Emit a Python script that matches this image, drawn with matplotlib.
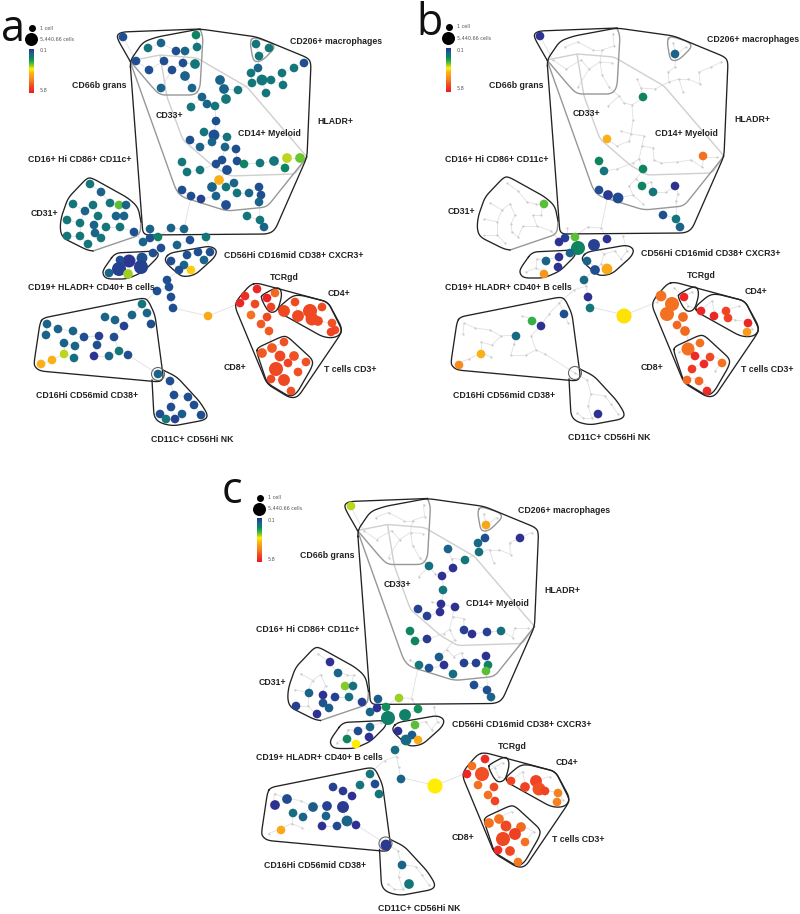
import numpy as np
import matplotlib
matplotlib.use("Agg")
import matplotlib.pyplot as plt
from matplotlib.colors import LinearSegmentedColormap

# ==========================================
# 1. Data (pixel positions)
# ==========================================
# panel a: every node of the tree, the other panels reuse them as small grey dots
a_x = [123,196,197,148,161,176,185,136,164,183,195,149,172,185,161,192,
       256,269,259,304,294,282,258,251,252,262,271,283,266,
       220,224,238,226,202,207,215,191,216,
       204,214,227,190,200,212,225,236,
       182,187,200,216,222,227,237,244,260,274,287,300,285,
       219,234,212,226,182,191,201,216,237,249,259,261,259,226,247,260,264,
       90,101,73,93,110,119,126,85,98,116,124,67,80,94,106,120,134,67,80,95,101,88,
       150,171,184,150,158,143,190,206,161,177,
       153,142,129,120,119,141,109,128,
       171,187,198,210,204,184,179,191,
       167,169,157,171,173,208,
       257,245,240,255,251,267,261,269,275,267,271,
       295,284,322,298,310,312,318,332,335,331,
       284,272,262,280,294,288,306,276,298,271,284,291,
       142,132,147,151,105,115,124,47,58,73,46,84,99,114,64,75,97,119,128,94,109,74,64,52,41,158,
       170,174,188,194,171,160,182,201,166,175]
a_y = [37,35,47,48,43,51,51,61,61,63,64,70,70,76,88,88,
       44,48,56,63,68,73,68,73,83,80,80,85,93,
       80,89,90,99,97,104,106,107,121,
       132,135,137,140,147,142,147,149,
       162,172,170,164,160,170,161,164,163,161,158,158,168,
       180,183,187,187,190,196,199,196,193,193,187,195,202,205,216,220,227,
       184,192,204,205,203,205,205,211,216,216,216,220,223,225,227,227,232,236,236,233,238,244,
       229,228,229,238,237,242,240,237,248,245,
       253,258,261,260,269,267,273,274,
       261,255,252,252,260,265,270,270,
       280,287,291,297,308,316,
       289,296,303,304,315,317,324,331,293,298,307,
       302,311,307,316,311,319,321,323,330,332,
       342,348,353,356,356,363,362,369,372,379,380,391,
       304,315,313,324,317,320,326,324,329,331,335,337,336,337,343,346,345,351,355,356,356,358,354,360,364,374,
       381,395,397,405,407,414,414,415,419,419]
a_val = [.45,1.3,1,1,.7,.45,.7,.45,.45,.45,1,.45,.45,.7,.7,.7,
         1,1,1,.45,1,1,.7,1,1,1,1,1,1,
         .7,.7,1,1,.7,.7,1,1,.45,
         1,.45,1,.45,.7,.7,.7,.45,
         1,1,1,.45,.45,.45,.45,1.3,1,1,2.4,2.1,1.3,
         3.3,.7,.7,1,.45,.45,.3,.7,1,.7,.45,.45,.7,.45,1,1,.7,
         1,.7,1,1,1,2,.7,.7,1,.7,.7,1,1,.7,1,1,.45,1,1,.7,1,1,
         .7,.7,.7,.45,1.2,.7,.45,1,.45,.7,
         .45,.45,.15,.45,.3,.3,.7,2.3,
         .45,.45,.45,.45,.7,.7,.45,3,
         .45,.45,.45,.45,.45,3.4,
         5.6,5.4,5.6,4.9,4.4,4.9,4.7,4.7,4.5,5.7,5,
         4.9,4.9,4.9,4.9,4.9,4.9,4.9,4.8,4.9,5,
         4.8,4.7,4.7,4.9,4.8,5,4.8,4.9,4.8,4.9,4.9,4.8,
         1,.7,.7,.45,.7,.7,.3,.7,.7,.7,.7,.45,.3,.45,.7,.7,.45,1,.45,.15,.7,.9,2.4,3.3,3.3,.7,
         .45,.45,.45,.45,.45,.45,.6,.45,1,.3]
a_size = [8,8,8,8,8,8,8,8,8,8,9,8,8,9,8,8,
          8,8,8,8,8,8,8,8,8,10,8,8,8,
          9,9,8,9,8,8,8,8,8,
          8,10,8,8,8,8,8,8,
          8,8,8,8,8,9,8,8,8,9,9,9,8,
          9,8,9,8,8,8,8,8,8,8,8,8,8,9,8,8,8,
          8,8,8,8,8,8,8,8,8,8,8,8,8,8,8,8,8,8,8,8,8,8,
          8,8,8,8,8,8,8,8,8,8,
          8,10,12,8,13,13,8,9,
          8,8,8,8,8,8,8,8,
          8,8,8,8,8,8,
          8,8,8,8,8,8,8,8,8,8,8,
          8,11,8,11,13,12,9,8,8,8,
          8,9,9,10,9,8,8,13,8,8,11,8,
          8,8,8,8,8,8,8,8,8,8,8,8,8,8,8,8,8,8,8,8,8,8,8,8,8,8,
          8,8,8,8,8,8,8,8,8,8]

b_x = [540,675,643,607,703,599,604,643,599,608,618,642,653,675,663,676,680,544,
       575,565,559,578,594,607,570,559,558,546,544,587,595,607,584,588,590,624,
       564,532,541,516,481,459,598,
       661,672,667,683,677,685,684,701,714,726,728,748,747,700,688,695,710,704,722,692,687,699,707]
b_y = [36,54,97,139,156,161,171,169,190,195,198,186,192,186,215,219,227,204,
       237,238,242,248,245,239,253,257,267,261,274,261,270,269,280,297,308,316,
       314,321,326,336,354,365,414,
       296,304,314,317,325,331,297,311,316,311,318,323,332,343,349,356,357,364,363,369,380,381,391]
b_val = [.15,.7,1.3,3.3,4.4,1.3,1,1.3,.45,.2,.4,1.3,1,.1,.45,1,.7,2,
         2,.3,.1,1.3,.3,.1,.7,.1,.1,.7,3.8,.7,.45,3.4,.8,.1,1,2.8,
         .45,1.8,.1,.8,3.3,4,.1,
         4.4,4.4,4.4,4.5,4.5,4.5,5.6,5.6,5.6,5,5,5.6,3.7,4.4,4.4,5.5,4.9,5.5,4.4,5.2,4.5,4.5,5.5]
b_size = [8,8,8,8,8,8,8,8,8,9,10,8,8,8,8,8,8,8,
          8,8,8,13,11,8,8,8,8,8,8,8,9,10,8,8,8,14,
          8,8,8,8,8,8,8,
          10,13,13,9,8,9,8,8,8,8,8,8,8,8,12,8,8,8,8,8,8,8,8]

c_x = [351,486,485,478,520,479,448,465,429,453,442,443,441,455,418,427,440,410,415,427,464,472,487,501,
       439,419,429,444,464,476,486,488,486,453,474,487,491,399,378,
       330,338,345,353,309,323,335,349,362,296,323,329,317,
       377,386,370,418,388,405,
       370,358,369,347,356,
       415,398,412,406,418,395,401,435,
       370,333,343,352,360,375,379,287,275,313,327,343,293,303,326,347,356,322,337,281,386,402,409,
       485,472,467,482,478,494,488,495,511,525,536,539,545,558,557,489,499,506,521,515,525,503,498,510,518]
c_y = [506,525,538,543,538,552,549,560,566,568,576,590,604,607,609,616,612,631,641,639,630,634,632,631,
       657,665,668,665,663,663,656,665,671,674,685,690,697,698,699,
       662,673,686,686,693,695,697,697,702,706,703,708,714,
       708,707,712,709,718,715,
       727,731,737,739,744,
       725,731,735,740,740,750,779,786,
       774,787,791,796,785,784,794,799,805,807,806,807,813,817,816,821,825,826,826,830,845,865,884,
       759,766,774,774,785,787,795,801,781,787,781,789,791,793,802,823,819,826,827,834,842,839,850,851,862]
c_val = [2.4,3.5,.45,.8,.1,.9,.7,1,.9,.1,.1,1,.1,.1,.3,.3,.1,1.3,1.3,.2,.3,.1,.3,.9,
         .6,1,.45,.1,.3,.3,.1,1.2,2,.9,.45,.45,.7,2.3,.6,
         .1,.7,2.2,.9,.7,.1,.3,.9,.3,.3,.5,.6,.1,
         .1,1.4,.7,1.4,1.2,1.2,
         .7,.4,.1,1.3,2.7,
         2,.1,.6,.8,3.4,.9,.7,2.7,
         1,.3,.2,.1,1,.4,1,.4,.1,.6,.3,.2,.9,.7,.7,.7,.1,.1,.4,3.4,.2,.7,1,
         5.5,4.4,5.6,4.8,4.4,4.9,4.4,5,5,5,5,4.8,5,4.2,4.2,4.4,4.4,4.9,4.5,5.1,4.4,4.9,5.5,4.9,4.3]
c_size = [8,8,8,8,8,8,8,8,8,8,8,8,8,8,8,8,8,8,8,8,8,8,8,8,
          8,8,8,8,8,8,8,8,8,8,8,8,8,8,8,
          8,8,8,8,8,8,8,8,8,8,8,8,8,
          8,8,8,8,13,11,
          8,8,8,8,8,
          8,8,8,10,8,8,8,14,
          8,8,8,8,8,8,8,9,9,9,9,11,8,8,8,10,8,8,8,8,10,8,9,
          8,8,8,13,8,8,8,8,8,9,11,12,8,8,8,9,9,10,9,11,8,13,8,9,8]

# gates, in the coordinates of panel a
hulls_black = [
    [(130,61),(143,42),(157,37),(200,29),(257,37),(308,58),(311,63),(307,157),(275,230),(268,234),(143,235),(130,61)],
    [(130,61),(118,40),(117,35),(122,32),(200,29)],
    [(141,222),(138,207),(128,198),(92,178),(87,178),(68,198),(61,218),(60,230),(63,238),(87,250),(93,251)],
    [(115,253),(157,251),(159,256),(143,272),(127,279),(107,279),(103,275),(103,270),(115,253)],
    [(170,253),(210,246),(217,250),(215,257),(195,275),(183,277),(177,273),(166,263),(165,258),(170,253)],
    [(43,318),(143,298),(148,300),(155,315),(163,375),(163,378),(160,382),(40,371),(35,367),(34,363),(40,323),(43,318)],
    [(163,370),(177,377),(200,402),(208,415),(205,420),(173,426),(160,423),(154,417),(152,380)],
    [(257,283),(328,302),(342,330),(340,335),(298,397),(290,398),(267,384),(235,307),(237,300),(250,285),(257,283)],
    [(262,295),(275,288),(280,288),(282,295),(278,310),(272,313),(267,310),(261,298),(262,295)],
    [(278,308),(292,296),(300,295),(328,302),(342,328),(340,335),(333,338),(323,337),(280,313),(278,308)],
    [(257,348),(283,336),(288,337),(313,360),(312,367),(297,393),(290,397),(267,383),(257,353),(257,348)],
]
hulls_grey = [
    [(200,29),(203,37),(200,88),(195,95),(160,95),(153,88),(130,61)],
    [(253,37),(272,43),(275,48),(263,60),(257,62),(253,60),(250,42),(253,37)],
    [(130,61),(176,190),(182,197),(227,211),(267,207),(307,157)],
    [(141,222),(140,235),(93,251)],
]
hulls_light = [
    [(160,55),(167,97),(183,140),(213,166),(230,176),(295,174),(307,157)],
    [(130,61),(160,55),(197,58),(247,87),(307,157)],
]

label_text = ["CD206+ macrophages", "CD66b grans", "CD33+", "CD14+ Myeloid", "HLADR+",
              "CD16+ Hi CD86+ CD11c+", "CD31+", "CD56Hi CD16mid CD38+ CXCR3+",
              "CD19+ HLADR+ CD40+ B cells", "TCRgd", "CD4+", "CD8+", "T cells CD3+",
              "CD16Hi CD56mid CD38+", "CD11C+ CD56Hi NK"]
label_x = [290,72,156,238,317,28,31,224,28,270,328,224,324,36,151]
label_y = [41,86,115,134,121,160,213,255,288,277,293,368,370,396,439]

panel_names = ["a", "b", "c"]
panel_dx = [0, 417, 227.5]
panel_dy = [0, -1, 469.5]
letter_x = [1, 416, 222]
letter_y = [41, 35, 503]

# ==========================================
# 2. Helpers
# ==========================================
spade = LinearSegmentedColormap.from_list("spade", [
    (0.0, "#2e3192"), (0.06, "#1f5090"), (0.105, "#1a6488"), (0.158, "#14767a"),
    (0.21, "#0f8560"), (0.28, "#20a850"), (0.35, "#6cc52e"), (0.40, "#b5d31f"),
    (0.447, "#fff200"), (0.56, "#fbb017"), (0.72, "#f58220"), (0.84, "#ef4a23"),
    (1.0, "#ed1c24")])


def px_size(d):
    # marker area in points^2 from a diameter in pixels at dpi 100
    return (np.asarray(d, dtype=float) * 0.72) ** 2


def tree_edges(x, y):
    # minimum spanning tree over the panel a nodes (Prim)
    pts = np.column_stack([x, y]).astype(float)
    n = len(pts)
    in_tree = np.zeros(n, dtype=bool)
    in_tree[0] = True
    best = np.linalg.norm(pts - pts[0], axis=1)
    parent = np.zeros(n, dtype=int)
    edges = []
    for _ in range(n - 1):
        best_free = np.where(in_tree, np.inf, best)
        j = int(np.argmin(best_free))
        edges.append((parent[j], j))
        in_tree[j] = True
        d = np.linalg.norm(pts - pts[j], axis=1)
        closer = d < best
        best[closer] = d[closer]
        parent[closer] = j
    return edges


def rounded(hull, radius=6.0):
    # cut each corner of a gate and replace it with a small bezier
    pts = np.array(hull, dtype=float)
    closed = np.allclose(pts[0], pts[-1])
    if closed:
        pts = pts[:-1]
    n = len(pts)
    out = []
    t = np.linspace(0, 1, 8)[:, None]
    for k in range(n):
        if not closed and k in (0, n - 1):
            out.append(pts[k][None, :])
            continue
        prev_pt, cur, next_pt = pts[(k - 1) % n], pts[k], pts[(k + 1) % n]
        d1 = np.linalg.norm(prev_pt - cur)
        d2 = np.linalg.norm(next_pt - cur)
        p1 = cur + (prev_pt - cur) * min(radius, d1 / 2) / d1
        p2 = cur + (next_pt - cur) * min(radius, d2 / 2) / d2
        out.append((1 - t) ** 2 * p1 + 2 * t * (1 - t) * cur + t ** 2 * p2)
    res = np.vstack(out)
    if closed:
        res = np.vstack([res, res[0]])
    return res


def draw_panel(ax, i, node_x, node_y, node_val, node_size, edges):
    dx, dy = panel_dx[i], panel_dy[i]
    tx = np.array(a_x) + dx
    ty = np.array(a_y) + dy

    # tree
    for p, q in edges:
        ax.plot([tx[p], tx[q]], [ty[p], ty[q]], color="#e0e0e0", lw=0.6, zorder=1)
    ax.scatter(tx, ty, s=px_size(2.2), color="#cbcbcb", linewidths=0, zorder=2)

    # gates
    for hull in hulls_light:
        h = rounded(hull, 4)
        ax.plot(h[:, 0] + dx, h[:, 1] + dy, color="#cfcfcf", lw=1.0, solid_joinstyle="round", zorder=2)
    for hull in hulls_grey:
        h = rounded(hull)
        ax.plot(h[:, 0] + dx, h[:, 1] + dy, color="#979797", lw=1.0, solid_joinstyle="round", zorder=3)
    for hull in hulls_black:
        h = rounded(hull)
        ax.plot(h[:, 0] + dx, h[:, 1] + dy, color="#222222", lw=0.95, solid_joinstyle="round", zorder=3)
    ax.scatter([158 + dx], [374 + dy], s=px_size(13), facecolors="none", edgecolors="#666666",
               linewidths=0.8, zorder=3)

    # nodes
    ax.scatter(node_x, node_y, s=px_size(np.asarray(node_size) * 1.08), c=node_val, cmap=spade,
               vmin=0.1, vmax=5.8, linewidths=0, zorder=4)

    # labels
    for t, lx, ly in zip(label_text, label_x, label_y):
        ax.text(lx + dx, ly + dy, t, fontsize=6.35, fontweight="bold", color="#222222",
                family="Liberation Sans", ha="left", va="center", zorder=5)

    # panel letter
    ax.text(letter_x[i], letter_y[i], panel_names[i], fontsize=31, color="#111111",
            family="Open Sans", ha="left", va="baseline", zorder=5)

    # size and colour legend
    ax.scatter([32 + dx], [28 + dy], s=px_size(7), color="black", linewidths=0, zorder=5)
    ax.scatter([31 + dx], [39 + dy], s=px_size(13), color="black", linewidths=0, zorder=5)
    ax.text(40 + dx, 28 + dy, "1 cell", fontsize=3.5, color="#555555", va="center", zorder=5)
    ax.text(40 + dx, 39 + dy, "5,440.66 cells", fontsize=3.5, color="#555555", va="center", zorder=5)
    grad = np.linspace(0, 1, 128).reshape(-1, 1)
    ax.imshow(grad, cmap=spade, aspect="auto", extent=(29 + dx, 34 + dx, 93 + dy, 49 + dy), zorder=5)
    ax.text(40 + dx, 51 + dy, "0.1", fontsize=3.5, color="#555555", va="center", zorder=5)
    ax.text(40 + dx, 90 + dy, "5.8", fontsize=3.5, color="#555555", va="center", zorder=5)


# ==========================================
# 3. Main Execution
# ==========================================
def main():
    fig = plt.figure(figsize=(8, 9.14), dpi=100)
    ax = fig.add_axes([0, 0, 1, 1])

    edges = tree_edges(a_x, a_y)
    draw_panel(ax, 0, a_x, a_y, a_val, a_size, edges)
    draw_panel(ax, 1, b_x, b_y, b_val, b_size, edges)
    draw_panel(ax, 2, c_x, c_y, c_val, c_size, edges)

    ax.set_xlim(0, 800)
    ax.set_ylim(914, 0)
    ax.axis("off")
    fig.savefig("out.png", dpi=100)
    plt.close(fig)


if __name__ == "__main__":
    main()
